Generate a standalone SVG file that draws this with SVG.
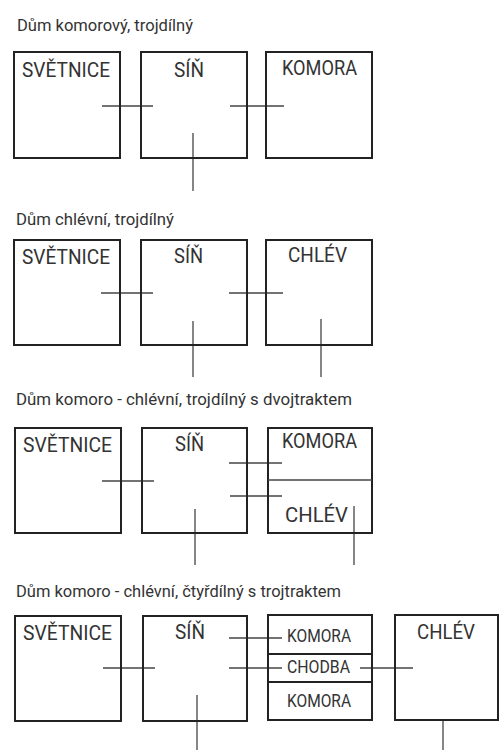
<svg xmlns="http://www.w3.org/2000/svg" width="499" height="750" viewBox="0 0 499 750">
<style>
.bg{fill:#ffffff}
.box{fill:none;stroke:#222222;stroke-width:2}
.div{stroke:#444444;stroke-width:1.3;fill:none}
.con{stroke:#444444;stroke-width:1.3;fill:none}
.title{font-family:Roboto,"Liberation Sans",sans-serif;font-size:16px;fill:#333333}
.lbl{font-family:Roboto,"Liberation Sans",sans-serif;font-size:21px;fill:#333333}
.sm{font-family:Roboto,"Liberation Sans",sans-serif;font-size:18px;fill:#333333}
</style>
<rect class="bg" x="0" y="0" width="499" height="750"/>

<text class="title" x="17" y="31" textLength="176" lengthAdjust="spacingAndGlyphs">Dům komorový, trojdílný</text>
<text class="title" x="16" y="225" textLength="158" lengthAdjust="spacingAndGlyphs">Dům chlévní, trojdílný</text>
<text class="title" x="16" y="405" textLength="336" lengthAdjust="spacingAndGlyphs">Dům komoro - chlévní, trojdílný s dvojtraktem</text>
<text class="title" x="16" y="597" textLength="325" lengthAdjust="spacingAndGlyphs">Dům komoro - chlévní, čtyřdílný s trojtraktem</text>

<g id="connectors">
<line class="con" x1="102" y1="106" x2="153" y2="106"/>
<line class="con" x1="230" y1="106" x2="284" y2="106"/>
<line class="con" x1="193" y1="133" x2="193" y2="191"/>

<line class="con" x1="101" y1="293" x2="153" y2="293"/>
<line class="con" x1="229" y1="293" x2="283" y2="293"/>
<line class="con" x1="193" y1="321" x2="193" y2="377"/>
<line class="con" x1="321" y1="319" x2="321" y2="377"/>

<line class="con" x1="102" y1="481" x2="154" y2="481"/>
<line class="con" x1="229" y1="463" x2="282" y2="463"/>
<line class="con" x1="230" y1="496" x2="282" y2="496"/>
<line class="con" x1="195" y1="509" x2="195" y2="565"/>
<line class="con" x1="354" y1="506" x2="354" y2="565"/>

<line class="con" x1="103" y1="668" x2="155" y2="668"/>
<line class="con" x1="229" y1="638" x2="282" y2="638"/>
<line class="con" x1="229" y1="668" x2="282" y2="668"/>
<line class="con" x1="360" y1="668" x2="413" y2="668"/>
<line class="con" x1="197" y1="695" x2="197" y2="750"/>
<line class="con" x1="443" y1="721" x2="443" y2="750"/>
</g>

<g id="s1-svetnice">
<rect class="box" x="14" y="52" width="106" height="106"/>
<text class="lbl" x="22" y="77" textLength="88" lengthAdjust="spacingAndGlyphs">SVĚTNICE</text>
</g>
<g id="s1-sin">
<rect class="box" x="141" y="52" width="106" height="106"/>
<text class="lbl" x="174" y="77" textLength="30" lengthAdjust="spacingAndGlyphs">SÍŇ</text>
</g>
<g id="s1-komora">
<rect class="box" x="266" y="52" width="106" height="106"/>
<text class="lbl" x="282" y="75" textLength="75" lengthAdjust="spacingAndGlyphs">KOMORA</text>
</g>

<g id="s2-svetnice">
<rect class="box" x="14" y="240" width="106" height="105"/>
<text class="lbl" x="22" y="264" textLength="88" lengthAdjust="spacingAndGlyphs">SVĚTNICE</text>
</g>
<g id="s2-sin">
<rect class="box" x="141" y="240" width="106" height="105"/>
<text class="lbl" x="174" y="263" textLength="29" lengthAdjust="spacingAndGlyphs">SÍŇ</text>
</g>
<g id="s2-chlev">
<rect class="box" x="266" y="240" width="106" height="105"/>
<text class="lbl" x="288" y="262" textLength="59" lengthAdjust="spacingAndGlyphs">CHLÉV</text>
</g>

<g id="s3-svetnice">
<rect class="box" x="15" y="428" width="106" height="105"/>
<text class="lbl" x="23" y="452" textLength="89" lengthAdjust="spacingAndGlyphs">SVĚTNICE</text>
</g>
<g id="s3-sin">
<rect class="box" x="142" y="428" width="105" height="105"/>
<text class="lbl" x="175" y="451" textLength="29" lengthAdjust="spacingAndGlyphs">SÍŇ</text>
</g>
<g id="s3-komora-chlev">
<rect class="box" x="268" y="428" width="104" height="105"/>
<line class="div" x1="268" y1="480" x2="372" y2="480"/>
<text class="lbl" x="282" y="448" textLength="75" lengthAdjust="spacingAndGlyphs">KOMORA</text>
<text class="lbl" x="285" y="522" textLength="63" lengthAdjust="spacingAndGlyphs">CHLÉV</text>
</g>

<g id="s4-svetnice">
<rect class="box" x="15" y="616" width="106" height="105"/>
<text class="lbl" x="23" y="640" textLength="89" lengthAdjust="spacingAndGlyphs">SVĚTNICE</text>
</g>
<g id="s4-sin">
<rect class="box" x="143" y="616" width="104" height="105"/>
<text class="lbl" x="175" y="639" textLength="30" lengthAdjust="spacingAndGlyphs">SÍŇ</text>
</g>
<g id="s4-trakt">
<rect class="box" x="268" y="615" width="104" height="105"/>
<line class="box" x1="268" y1="654" x2="372" y2="654" stroke-width="1.5"/>
<line class="box" x1="268" y1="682" x2="373" y2="682" stroke-width="1.5"/>
<text class="sm" x="287" y="642" textLength="64" lengthAdjust="spacingAndGlyphs">KOMORA</text>
<text class="sm" x="287" y="673" textLength="63" lengthAdjust="spacingAndGlyphs">CHODBA</text>
<text class="sm" x="287" y="707" textLength="64" lengthAdjust="spacingAndGlyphs">KOMORA</text>
</g>
<g id="s4-chlev">
<rect class="box" x="395" y="615" width="103" height="105"/>
<text class="lbl" x="417" y="639" textLength="58" lengthAdjust="spacingAndGlyphs">CHLÉV</text>
</g>
</svg>
